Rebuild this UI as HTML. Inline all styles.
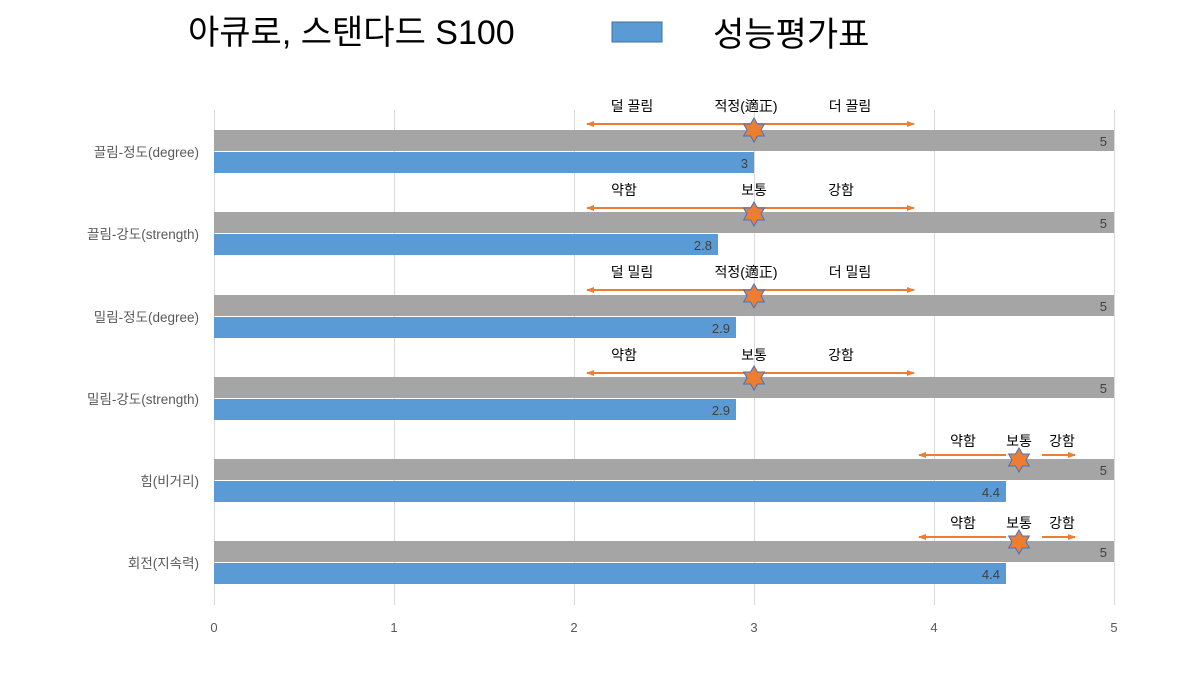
<!DOCTYPE html>
<html><head><meta charset="utf-8"><style>
body{margin:0;background:#fff}
text{font-family:"Liberation Sans","Noto Sans CJK KR",sans-serif}
</style></head><body>
<svg width="1200" height="675" xmlns="http://www.w3.org/2000/svg">
<defs>
<marker id="ah" markerWidth="8" markerHeight="8" refX="7" refY="4" orient="auto" markerUnits="userSpaceOnUse"><path d="M0,1 L8,4 L0,7 z" fill="#ED7D31"/></marker>
<g id="star"><polygon points="0,-12 3.5,-6 10.4,-6 7,0 10.4,6 3.5,6 0,12 -3.5,6 -10.4,6 -7,0 -10.4,-6 -3.5,-6" fill="#ED7D31" stroke="#4472C4" stroke-width="1"/></g>
</defs>
<text x="188" y="44" font-size="34" fill="#000">아큐로, 스탠다드 S100</text>
<rect x="612" y="22" width="50" height="20" fill="#5B9BD5" stroke="#41719C"/>
<text x="713" y="46" font-size="34" fill="#000">성능평가표</text>
<g stroke="#d9d9d9" stroke-width="1">
<line x1="214.5" y1="110" x2="214.5" y2="605"/><line x1="394.5" y1="110" x2="394.5" y2="605"/><line x1="574.5" y1="110" x2="574.5" y2="605"/><line x1="754.5" y1="110" x2="754.5" y2="605"/><line x1="934.5" y1="110" x2="934.5" y2="605"/><line x1="1114.5" y1="110" x2="1114.5" y2="605"/>
</g>
<g font-size="13" fill="#595959" text-anchor="middle">
<text x="214" y="632">0</text><text x="394" y="632">1</text><text x="574" y="632">2</text><text x="754" y="632">3</text><text x="934" y="632">4</text><text x="1114" y="632">5</text>
</g>
<g font-size="13.5" fill="#595959" text-anchor="end">
<text x="199" y="157">끌림-정도(degree)</text>
<text x="199" y="239">끌림-강도(strength)</text>
<text x="199" y="322">밀림-정도(degree)</text>
<text x="199" y="404">밀림-강도(strength)</text>
<text x="199" y="486">힘(비거리)</text>
<text x="199" y="568">회전(지속력)</text>
</g>
<g fill="#A5A5A5">
<rect x="214" y="130" width="900" height="21"/><rect x="214" y="212" width="900" height="21"/><rect x="214" y="295" width="900" height="21"/><rect x="214" y="377" width="900" height="21"/><rect x="214" y="459" width="900" height="21"/><rect x="214" y="541" width="900" height="21"/>
</g>
<g fill="#5B9BD5">
<rect x="214" y="152" width="540" height="21"/><rect x="214" y="234" width="504" height="21"/><rect x="214" y="317" width="522" height="21"/><rect x="214" y="399" width="522" height="21"/><rect x="214" y="481" width="792" height="21"/><rect x="214" y="563" width="792" height="21"/>
</g>
<g font-size="13" fill="#404040" text-anchor="end">
<text x="1107" y="146">5</text><text x="1107" y="228">5</text><text x="1107" y="311">5</text><text x="1107" y="393">5</text><text x="1107" y="475">5</text><text x="1107" y="557">5</text>
<text x="748" y="168">3</text><text x="712" y="250">2.8</text><text x="730" y="333">2.9</text><text x="730" y="415">2.9</text><text x="1000" y="497">4.4</text><text x="1000" y="579">4.4</text>
</g>
<g stroke="#ED7D31" stroke-width="2" marker-end="url(#ah)">
<line x1="754" y1="124" x2="587" y2="124"/><line x1="754" y1="124" x2="914" y2="124"/>
<line x1="754" y1="208" x2="587" y2="208"/><line x1="754" y1="208" x2="914" y2="208"/>
<line x1="754" y1="290" x2="587" y2="290"/><line x1="754" y1="290" x2="914" y2="290"/>
<line x1="754" y1="373" x2="587" y2="373"/><line x1="754" y1="373" x2="914" y2="373"/>
<line x1="1006" y1="455" x2="919" y2="455"/><line x1="1042" y1="455" x2="1075" y2="455"/>
<line x1="1006" y1="537" x2="919" y2="537"/><line x1="1042" y1="537" x2="1075" y2="537"/>
</g>
<use href="#star" x="754" y="130"/><use href="#star" x="754" y="214"/><use href="#star" x="754" y="296"/><use href="#star" x="754" y="378"/><use href="#star" x="1019" y="460"/><use href="#star" x="1019" y="542"/>
<g font-size="14" fill="#000" text-anchor="middle">
<text x="632" y="111">덜 끌림</text><text x="746" y="111">적정(適正)</text><text x="850" y="111">더 끌림</text>
<text x="624" y="195">약함</text><text x="754" y="195">보통</text><text x="841" y="195">강함</text>
<text x="632" y="277">덜 밀림</text><text x="746" y="277">적정(適正)</text><text x="850" y="277">더 밀림</text>
<text x="624" y="360">약함</text><text x="754" y="360">보통</text><text x="841" y="360">강함</text>
<text x="963" y="446">약함</text><text x="1019" y="446">보통</text><text x="1062" y="446">강함</text>
<text x="963" y="528">약함</text><text x="1019" y="528">보통</text><text x="1062" y="528">강함</text>
</g>
</svg>
</body></html>
